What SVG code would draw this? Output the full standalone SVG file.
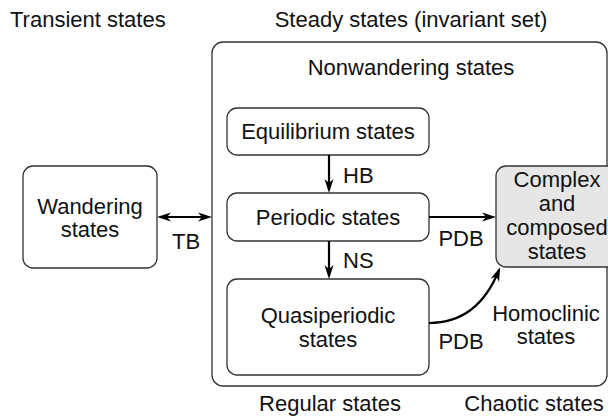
<svg xmlns="http://www.w3.org/2000/svg" width="608" height="418" viewBox="0 0 608 418">
<style>
text{font-family:"Liberation Sans",Arial,sans-serif;font-size:22px;fill:#111;}
.c{text-anchor:middle;}
.box{fill:#fff;stroke:#333;stroke-width:1.3;}
.gray{fill:#e6e6e6;stroke:#333;stroke-width:1.3;}
.arr{fill:none;stroke:#000;stroke-width:2.2;}
</style>
<defs>
<marker id="ah" viewBox="0 0 14 10" refX="11" refY="5" markerWidth="14" markerHeight="10" markerUnits="userSpaceOnUse" orient="auto-start-reverse">
<path d="M14,5 L0,0.5 L4,5 L0,9.5 Z" fill="#000"/>
</marker>
</defs>
<rect width="608" height="418" fill="#fff"/>
<text x="10" y="27">Transient states</text>
<text class="c" x="411" y="27">Steady states (invariant set)</text>
<g id="steady">
<rect class="box" x="212" y="42" width="395" height="344" rx="11"/>
<text class="c" x="411" y="75">Nonwandering states</text>
</g>
<g id="equilibrium">
<rect class="box" x="227" y="108" width="202" height="47" rx="10"/>
<text class="c" x="328" y="139">Equilibrium states</text>
</g>
<g id="periodic">
<rect class="box" x="227" y="193" width="202" height="48" rx="10"/>
<text class="c" x="328" y="225">Periodic states</text>
</g>
<g id="quasiperiodic">
<rect class="box" x="227" y="279" width="202" height="96" rx="10"/>
<text class="c" x="328" y="323">Quasiperiodic</text>
<text class="c" x="328" y="347">states</text>
</g>
<g id="wandering">
<rect class="box" x="23" y="166" width="134" height="102" rx="10"/>
<text class="c" x="90" y="214">Wandering</text>
<text class="c" x="90" y="237">states</text>
</g>
<g id="complex">
<rect class="gray" x="496" y="166" width="124" height="101" rx="10"/>
<text class="c" x="557" y="187">Complex</text>
<text class="c" x="557" y="211">and</text>
<text class="c" x="557" y="235">composed</text>
<text class="c" x="557" y="259">states</text>
</g>
<g id="homoclinic">
<text class="c" x="546" y="321">Homoclinic</text>
<text class="c" x="546" y="344">states</text>
</g>
<text class="c" x="330" y="411">Regular states</text>
<text class="c" x="534" y="411">Chaotic states</text>
<g id="connectors">
<line class="arr" x1="329" y1="155" x2="329" y2="190" marker-end="url(#ah)"/>
<text x="343" y="183">HB</text>
<line class="arr" x1="329" y1="241" x2="329" y2="276" marker-end="url(#ah)"/>
<text x="343" y="268">NS</text>
<line class="arr" x1="160" y1="217" x2="209" y2="217" marker-start="url(#ah)" marker-end="url(#ah)"/>
<text class="c" x="186" y="249">TB</text>
<line class="arr" x1="429" y1="217" x2="493" y2="217" marker-end="url(#ah)"/>
<text class="c" x="461" y="246">PDB</text>
<path class="arr" d="M429,323 C462,323 485,305 499,270" marker-end="url(#ah)"/>
<text class="c" x="461" y="349">PDB</text>
</g>
</svg>
